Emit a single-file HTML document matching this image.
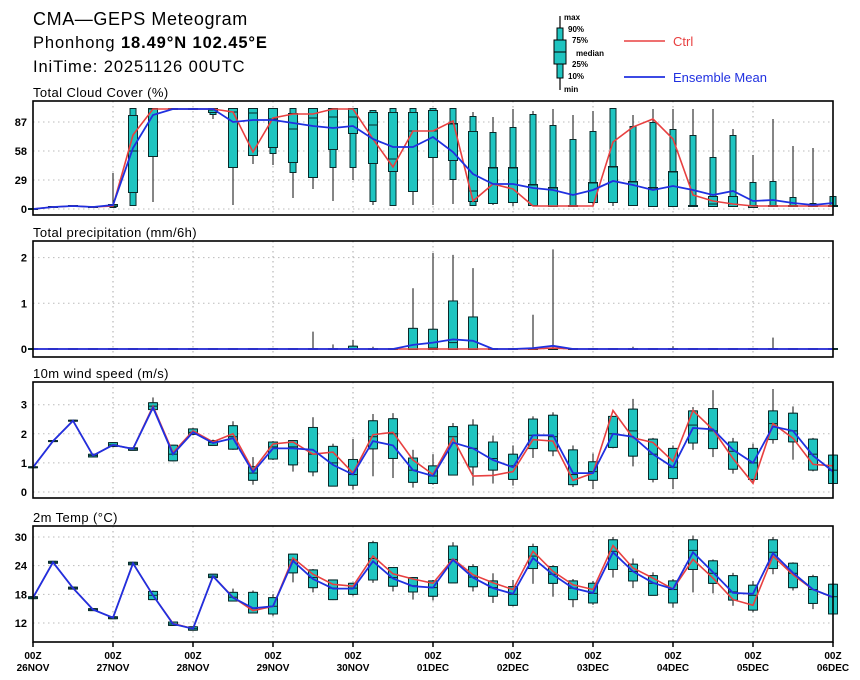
<!DOCTYPE html>
<html><head><meta charset="utf-8"><style>
body{margin:0;background:#fff;width:860px;height:680px;overflow:hidden}
svg{display:block;font-family:"Liberation Sans",sans-serif}
</style></head><body>
<svg id="chart" width="860" height="680" viewBox="0 0 860 680" xmlns="http://www.w3.org/2000/svg">
<text x="33" y="25" font-size="18" letter-spacing="0.6" fill="#000">CMA—GEPS Meteogram</text>
<text x="33" y="48" font-size="16.5" letter-spacing="0.9" fill="#000">Phonhong <tspan font-weight="bold">18.49°N 102.45°E</tspan></text>
<text x="33" y="72" font-size="16.5" letter-spacing="0.9" fill="#000">IniTime: 20251126 00UTC</text>
<g>
<line x1="560" y1="16" x2="560" y2="90" stroke="#000" stroke-width="1.2"/>
<rect x="557" y="28" width="6" height="50" fill="#1fc4c0" stroke="#000"/>
<rect x="554" y="40" width="12" height="24" fill="#1fc4c0" stroke="#000"/>
<line x1="554" y1="52" x2="566" y2="52" stroke="#000"/>
<g font-size="8" font-weight="bold" fill="#000">
<text x="564" y="20">max</text><text x="568" y="32">90%</text><text x="572" y="43">75%</text><text x="576" y="56">median</text><text x="572" y="67">25%</text><text x="568" y="79">10%</text><text x="564" y="92">min</text></g>
</g>
<g><line x1="624" y1="41" x2="665" y2="41" stroke="#e84040" stroke-width="1.5"/><text x="673" y="46" font-size="13" fill="#e84040">Ctrl</text></g>
<g><line x1="624" y1="77" x2="665" y2="77" stroke="#2030e0" stroke-width="1.8"/><text x="673" y="82" font-size="13" fill="#2030e0">Ensemble Mean</text></g>
</svg>
<script>
// Cloud cover (%)
const cloudCtrl=[0,2,3,2,3,74,100,100,100,100,97,57,91,95,95,100,100,70,42,78,78,88,8,25,20,3,3,3,3,67,82,90,70,14,8,5,3,3,3,3,3];
const cloudMean=[0,2,3,2,4,61,94,100,100,100,87,89,89,86,83,81,83,70,62,62,72,57,35,25,25,21,19,14,19,28,24,19,23,19,14,18,8,9,6,4,6];
const cloudMin=[0,2,3,2,2,4,7,100,100,90,4,45,44,11,20,8,29,4,4,4,4,5,4,4,3,3,3,3,3,3,3,3,3,3,3,3,2,3,3,3,3];
const cloudP10=[0,2,3,2,2,4,53,100,100,95,42,54,56,37,32,42,42,8,4,18,52,30,4,6,7,4,3,3,7,7,4,3,3,3,3,3,2,3,3,3,3];
const cloudP25=[0,2,3,2,3,17,53,100,100,97,42,54,62,47,32,60,76,46,38,18,52,49,8,6,7,4,3,3,7,7,4,3,3,3,3,3,2,3,3,3,3];
const cloudMed=[0,2,3,2,3,58,100,100,100,99,97,96,90,80,91,92,92,84,50,78,78,85,18,41,41,24,21,3,26,42,27,21,37,3,5,5,3,3,3,3,3];
const cloudP75=[0,2,3,2,4,93,100,100,100,100,100,100,100,95,100,100,100,96,96,96,98,85,77,41,41,24,21,3,26,42,27,21,37,3,12,12,3,3,3,3,3];
const cloudP90=[0,2,3,2,4,100,100,100,100,100,100,100,100,100,100,100,100,98,100,100,100,100,92,76,81,94,83,69,77,100,82,86,79,73,51,73,26,27,11,5,12];
const cloudMax=[0,2,3,2,36,100,100,100,100,100,100,100,100,100,100,100,100,98,100,100,100,100,97,92,100,98,100,94,98,100,94,100,100,100,100,80,54,90,63,61,12];
// Precipitation (mm/6h)
const precCtrl=[0,0,0,0,0,0,0,0,0,0,0,0,0,0,0,0,0,0,0,0,0,0,0,0,0,0,0.02,0,0,0,0,0,0,0,0,0,0,0,0,0,0];
const precMean=[0,0,0,0,0,0,0,0,0,0,0,0,0,0,0,0,0,0,0,0.09,0.14,0.21,0.18,0,0,0.02,0.07,0,0,0,0,0,0,0,0,0,0,0,0,0,0];
const precMin=[0,0,0,0,0,0,0,0,0,0,0,0,0,0,0,0,0,0,0,0,0,0,0,0,0,0,0,0,0,0,0,0,0,0,0,0,0,0,0,0,0];
const precP25=[0,0,0,0,0,0,0,0,0,0,0,0,0,0,0,0,0,0,0,0,0,0,0,0,0,0,0,0,0,0,0,0,0,0,0,0,0,0,0,0,0];
const precMed=[0,0,0,0,0,0,0,0,0,0,0,0,0,0,0,0,0,0,0,0,0.02,0.14,0,0,0,0,0,0,0,0,0,0,0,0,0,0,0,0,0,0,0];
const precP75=[0,0,0,0,0,0,0,0,0,0,0,0,0,0,0,0,0.05,0,0,0.44,0.42,1.04,0.69,0,0,0,0,0,0,0,0,0,0,0,0,0,0,0,0,0,0];
const precP90=[0,0,0,0,0,0,0,0,0,0,0,0,0,0,0,0,0.05,0,0,0.44,0.42,1.04,0.69,0,0,0,0,0,0,0,0,0,0,0,0,0,0,0,0,0,0];
const precMax=[0,0,0,0,0,0,0,0,0,0,0,0,0,0,0.38,0.1,0.2,0.05,0.02,1.33,2.1,2.06,1.77,0,0,0.75,2.18,0,0,0,0.05,0,0.06,0,0,0,0,0.25,0,0,0];
// Wind speed (m/s)
const windCtrl=[0.85,1.75,2.45,1.25,1.62,1.48,2.95,1.35,2.1,1.72,2.0,0.75,1.65,1.72,1.3,1.37,0.65,1.97,2.05,1.1,0.6,1.85,0.55,0.57,0.7,1.8,1.75,0.4,0.65,2.8,1.86,1.7,1.05,2.8,2.14,1.15,0.3,2.35,1.85,0.95,0.9];
const windMean=[0.85,1.75,2.45,1.25,1.62,1.48,2.9,1.3,2.05,1.68,1.85,0.68,1.5,1.5,1.45,0.93,0.6,1.75,1.6,0.75,0.55,1.7,1.5,1.1,0.85,1.95,1.95,0.65,0.65,2.0,1.9,1.3,0.85,2.2,2.15,1.45,1.0,2.25,2.1,1.25,0.7];
const windMin=[0.85,1.75,2.45,1.22,1.58,1.45,2.8,1.05,1.95,1.6,1.45,0.25,1.1,0.7,0.54,0.2,0.08,0.54,0.48,0.15,0.25,0.58,0.22,0.29,0.22,1.17,1.23,0.17,0.1,1.5,0.88,0.33,0.1,1.45,1.2,0.63,0.31,1.66,1.11,0.71,0.3];
const windP25=[0.85,1.75,2.45,1.22,1.58,1.45,2.85,1.09,2.0,1.62,1.49,0.42,1.15,0.95,0.71,0.22,0.25,1.5,1.17,0.35,0.31,0.6,0.88,0.77,0.45,1.51,1.43,0.27,0.42,1.55,1.25,0.45,0.48,1.7,1.51,0.8,0.45,1.82,1.74,0.77,0.31];
const windMed=[0.85,1.75,2.45,1.25,1.62,1.48,2.95,1.3,2.05,1.7,1.9,0.65,1.55,1.55,1.3,1.0,0.6,1.9,2.0,0.75,0.55,1.9,1.5,1.15,0.9,1.95,1.9,0.6,0.7,2.0,2.1,1.3,0.85,2.3,2.1,1.4,1.0,2.35,2.1,1.3,0.75];
const windP75=[0.85,1.75,2.45,1.28,1.68,1.5,3.05,1.59,2.15,1.75,2.26,0.85,1.7,1.75,2.2,1.55,1.1,2.43,2.5,1.15,0.88,2.23,2.28,1.7,1.28,2.49,2.62,1.43,1.02,2.58,2.83,1.8,1.48,2.77,2.85,1.7,1.48,2.77,2.69,1.8,1.25];
const windMax=[0.85,1.75,2.45,1.28,1.7,1.5,3.25,1.62,2.2,1.8,2.43,1.2,1.75,1.75,2.57,1.66,1.82,2.68,2.71,1.45,1.3,2.37,2.5,1.94,1.6,2.6,2.74,1.6,1.32,2.6,3.2,1.86,1.6,2.92,3.5,1.86,1.66,3.54,2.94,1.86,1.3];
// 2m temperature (°C)
const tempCtrl=[17.3,24.7,19.3,14.8,13.1,24.5,17.8,11.9,10.8,21.8,17.4,14.6,15.5,25.6,22.2,20.1,19.7,26.0,22.3,21.2,20.3,25.4,22.1,20.4,19.0,27.0,22.8,20.0,19.0,28.2,23.5,21.4,19.1,25.3,21.4,16.9,15.7,26.0,22.1,19.0,17.4];
const tempMean=[17.3,24.7,19.3,14.8,13.1,24.5,17.8,11.8,10.8,21.8,17.3,15.1,15.5,25.0,21.2,19.2,19.2,24.9,21.3,19.7,19.4,25.2,21.5,19.3,18.1,25.6,22.1,19.3,18.3,26.8,22.8,20.4,19.1,26.8,22.6,18.3,18.1,26.6,22.5,19.0,17.4];
const tempMin=[17.2,24.6,19.2,14.7,13.0,24.3,17.0,11.5,10.5,21.5,16.5,14.0,13.5,20.5,18.4,16.8,17.7,20.4,18.6,16.9,16.7,20.5,18.6,16.2,15.5,20.2,17.5,15.3,15.8,21.5,19.3,17.9,15.2,18.4,18.2,15.6,14.2,22.2,18.8,14.9,13.5];
const tempP25=[17.2,24.6,19.2,14.7,13.0,24.3,17.0,11.6,10.6,21.6,16.7,14.2,14.0,22.6,19.5,17.0,18.1,21.1,19.8,18.6,17.7,20.5,19.7,17.7,15.8,23.5,20.4,17.0,16.3,23.3,20.9,17.9,16.3,23.3,20.4,16.9,14.8,23.5,19.5,16.2,14.0];
const tempMed=[17.3,24.7,19.3,14.8,13.1,24.5,17.8,11.8,10.8,21.8,17.4,15.0,15.5,25.2,21.5,19.3,19.3,25.5,21.5,19.8,19.4,25.3,21.6,19.4,18.0,26.0,22.2,19.3,18.2,27.0,22.8,20.3,19.0,27.2,22.4,18.5,17.8,26.8,22.4,19.0,17.5];
const tempP75=[17.4,24.8,19.4,14.9,13.2,24.6,18.5,12.1,11.1,22.1,18.3,18.3,17.2,26.3,23.0,20.9,20.2,28.7,23.5,21.4,20.7,28.0,23.7,20.7,19.5,27.9,23.7,20.7,20.2,29.3,24.2,21.8,20.7,29.3,24.9,21.8,19.8,29.3,24.4,21.6,20.0];
const tempMax=[17.4,24.8,19.4,14.9,13.2,24.7,18.8,12.2,11.2,22.2,19.2,18.8,18.0,26.5,23.3,21.0,20.3,29.2,23.6,21.6,21.0,28.9,24.3,22.4,21.0,28.6,24.1,21.2,20.8,30.0,25.5,22.6,21.2,30.3,25.3,22.5,20.8,30.0,24.7,22.1,20.5];
// Axis labels
const dayLabels=["26NOV","27NOV","28NOV","29NOV","30NOV","01DEC","02DEC","03DEC","04DEC","05DEC","06DEC"];
const cloudTicks=[0,29,58,87];
const precTicks=[0,1,2];
const windTicks=[0,1,2,3];
const tempTicks=[12,18,24,30];

const NS="http://www.w3.org/2000/svg";
const svg=document.getElementById('chart');
const X0=33,X1=833,NSTEP=40;
function xs(i){return X0+(X1-X0)*i/NSTEP;}
function mk(tag,attrs,parent){const e=document.createElementNS(NS,tag);for(const k in attrs)e.setAttribute(k,attrs[k]);(parent||svg).appendChild(e);return e;}

function panel(cfg){
  const g=mk('g',{});
  
  
  const y=v=>cfg.y0+(v-cfg.v0)*cfg.scale;
  const t=mk('text',{x:33,y:cfg.top-4,'font-size':13,'letter-spacing':0.4,fill:'#000'},g);
  t.textContent=cfg.title;
  
  
  for(let d=1;d<dayLabels.length-1;d++){
    const l=mk('line',{x1:xs(d*4),x2:xs(d*4),y1:cfg.top,y2:cfg.bottom,stroke:'#aaa','stroke-dasharray':'1.5,3.5'},g);
    
    
  }
  cfg.ticks.forEach(v=>{
    const l=mk('line',{x1:X0,x2:X1,y1:y(v),y2:y(v),stroke:'#bbb','stroke-dasharray':'1.5,3.5'},g);
    
    
    const tl=mk('text',{x:27,y:y(v)+4,'font-size':11,'font-weight':'bold','text-anchor':'end',fill:'#000'},g);
    tl.textContent=v;
    
    
  });
  for(let i=0;i<=NSTEP;i++){
    const x=xs(i);
    const bg=mk('g',{},g);
    
    
    mk('line',{x1:x,x2:x,y1:y(cfg.max[i]),y2:y(cfg.min[i]),stroke:'#222','stroke-width':1.1},bg);
    const p10=cfg.p10?cfg.p10[i]:cfg.p25[i], p90=cfg.p90?cfg.p90[i]:cfg.p75[i];
    const hOut=Math.abs(y(p10)-y(p90));
    mk('rect',{x:x-3,y:Math.min(y(p10),y(p90))-0.5,width:6,height:hOut+1,fill:'#1fc4c0',stroke:'#0a2a2a','stroke-width':1},bg);
    const hIn=Math.abs(y(cfg.p25[i])-y(cfg.p75[i]));
    mk('rect',{x:x-4.5,y:Math.min(y(cfg.p25[i]),y(cfg.p75[i]))-0.5,width:9,height:hIn+1,fill:'#1fc4c0',stroke:'#0a2a2a','stroke-width':1},bg);
    mk('line',{x1:x-4.5,x2:x+4.5,y1:y(cfg.med[i]),y2:y(cfg.med[i]),stroke:'#0a2a2a','stroke-width':1},bg);
  }
  const pts=a=>a.map((v,i)=>xs(i).toFixed(1)+','+y(v).toFixed(1)).join(' ');
  const c=mk('polyline',{points:pts(cfg.ctrl),fill:'none',stroke:'#e84040','stroke-width':1.6},g);
  
  
  const m=mk('polyline',{points:pts(cfg.mean),fill:'none',stroke:'#2030e0','stroke-width':1.8},g);
  
  
  const fr=mk('rect',{x:X0,y:cfg.top,width:X1-X0,height:cfg.bottom-cfg.top,fill:'none',stroke:'#000','stroke-width':1.6},g);
  
  
}

panel({name:'cloud-cover',title:'Total Cloud Cover (%)',top:101,bottom:215,y0:209,v0:0,scale:-1.0,ticks:cloudTicks,
  ctrl:cloudCtrl,mean:cloudMean,min:cloudMin,p10:cloudP10,p25:cloudP25,med:cloudMed,p75:cloudP75,p90:cloudP90,max:cloudMax});
panel({name:'precipitation',title:'Total precipitation (mm/6h)',top:241,bottom:357,y0:349,v0:0,scale:-45.7,ticks:precTicks,
  ctrl:precCtrl,mean:precMean,min:precMin,p25:precP25,med:precMed,p75:precP75,p90:precP90,max:precMax});
panel({name:'wind-speed',title:'10m wind speed (m/s)',top:382,bottom:498,y0:492,v0:0,scale:-29.1,ticks:windTicks,
  ctrl:windCtrl,mean:windMean,min:windMin,p25:windP25,med:windMed,p75:windP75,max:windMax});
panel({name:'temperature',title:'2m Temp (°C)',top:526,bottom:642,y0:623,v0:12,scale:-4.78,ticks:tempTicks,
  ctrl:tempCtrl,mean:tempMean,min:tempMin,p25:tempP25,med:tempMed,p75:tempP75,max:tempMax});

dayLabels.forEach((d,k)=>{
  const x=xs(k*4);
  const tk=mk('line',{x1:x,x2:x,y1:642,y2:647,stroke:'#000','stroke-width':1.5});
  
  
  const t1=mk('text',{x:x,y:659,'font-size':10,'font-weight':'bold','text-anchor':'middle',fill:'#000'});
  t1.textContent='00Z';
  
  
  const t2=mk('text',{x:x,y:671,'font-size':10,'font-weight':'bold','text-anchor':'middle',fill:'#000'});
  t2.textContent=d;
  
  
});
</script>
</body></html>
